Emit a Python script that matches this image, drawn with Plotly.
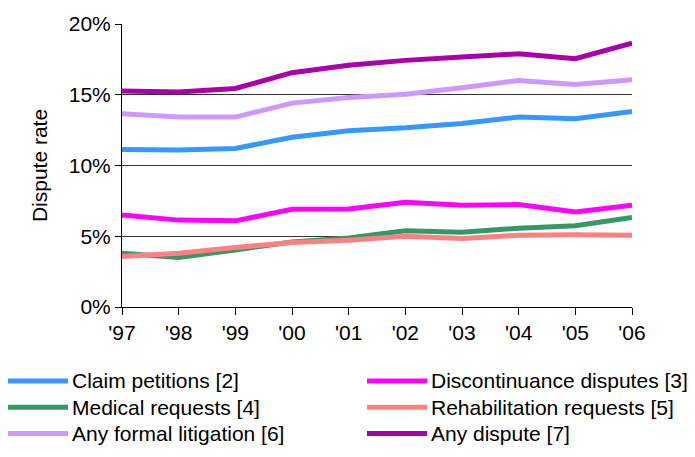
import plotly.graph_objects as go

years = ["'97", "'98", "'99", "'00", "'01", "'02", "'03", "'04", "'05", "'06"]
claim_petitions = [11.13, 11.09, 11.20, 12.00, 12.46, 12.67, 12.97, 13.42, 13.31, 13.81]
discontinuance = [6.51, 6.14, 6.09, 6.90, 6.92, 7.40, 7.19, 7.24, 6.71, 7.19]
medical = [3.80, 3.50, 4.03, 4.60, 4.88, 5.38, 5.29, 5.57, 5.75, 6.32]
rehabilitation = [3.57, 3.80, 4.21, 4.56, 4.72, 5.00, 4.84, 5.07, 5.11, 5.07]
any_formal = [13.65, 13.42, 13.42, 14.41, 14.80, 15.03, 15.49, 16.01, 15.72, 16.06]
any_dispute = [15.26, 15.19, 15.44, 16.56, 17.09, 17.43, 17.66, 17.89, 17.55, 18.65]

names = ["Claim petitions [2]", "Discontinuance disputes [3]", "Medical requests [4]",
         "Rehabilitation requests [5]", "Any formal litigation [6]", "Any dispute [7]"]
series = [claim_petitions, discontinuance, medical, rehabilitation, any_formal, any_dispute]
colors = ["#3399FF", "#FF00FF", "#339966", "#FF8080", "#CC99FF", "#AA00AA"]

W, H = 695, 457
L, R, T, B = 122, 63, 16, 150
pw, ph = W - L - R, H - T - B

fig = go.Figure()
for i in range(6):
    fig.add_trace(go.Scatter(
        x=years, y=[v / 100 for v in series[i]], name=names[i], mode="lines",
        line=dict(color=colors[i], width=5), showlegend=False,
    ))

# manual two-column legend (layout only)
def px_x(p):
    return (p - L) / pw

def px_y(p):
    return (H - B - p) / ph

shapes, annotations = [], []
col_x = [8, 367]
row_y = [383, 410, 437]
for i, (nm, c) in enumerate(zip(names, colors)):
    cx = col_x[i % 2]
    ry = row_y[i // 2]
    shapes.append(dict(type="line", xref="paper", yref="paper",
                       x0=px_x(cx), x1=px_x(cx + 60), y0=px_y(ry), y1=px_y(ry),
                       line=dict(color=c, width=5)))
    annotations.append(dict(text=nm, xref="paper", yref="paper", x=px_x(cx + 62), y=px_y(ry),
                            xanchor="left", yanchor="middle", showarrow=False,
                            font=dict(size=21, color="black")))

font = "Liberation Sans, Arial, sans-serif"
fig.update_layout(
    width=W, height=H,
    margin=dict(l=L, r=R, t=T, b=B),
    plot_bgcolor="white", paper_bgcolor="white",
    font=dict(family=font, size=21, color="black"),
    showlegend=False,
    shapes=shapes, annotations=annotations,
    xaxis=dict(type="category", range=[0, 9], showline=True, linecolor="black", linewidth=1,
               ticks="outside", ticklen=7, tickcolor="black", showgrid=False,
               tickfont=dict(size=21), zeroline=False),
    yaxis=dict(range=[0, 0.2], dtick=0.05, tickformat=".0%", showline=True, linecolor="black",
               linewidth=1, ticks="outside", ticklen=6, tickcolor="black",
               showgrid=True, gridcolor="#333333", gridwidth=1, zeroline=False,
               tickfont=dict(size=21),
               title=dict(text="Dispute rate", font=dict(size=21), standoff=15)),
)
fig.write_html("out.html")
